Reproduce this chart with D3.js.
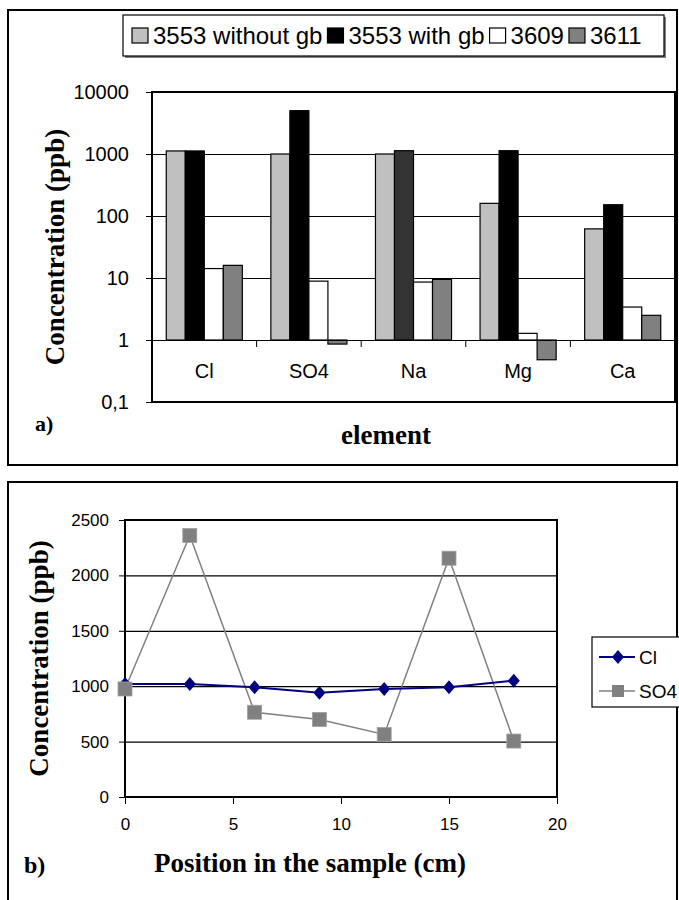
<!DOCTYPE html>
<html>
<head>
<meta charset="utf-8">
<script src="https://cdn.jsdelivr.net/npm/d3@7"></script>
<style>
  body { margin: 0; background: #fff; }
  svg { display: block; }
  .sans { font-family: "Liberation Sans", Arial, sans-serif; }
  .serif { font-family: "Liberation Serif", "Times New Roman", serif; font-weight: bold; }
</style>
</head>
<body>
<svg id="chart" width="679" height="900"></svg>
<script>
// ---- panel a data (log bar chart) ----
const categories = ["Cl", "SO4", "Na", "Mg", "Ca"];
const seriesNames = ["3553 without gb", "3553 with gb", "3609", "3611"];
const without3553 = [1120, 1000, 1000, 160, 62];
const with3553 = [1120, 5000, 1130, 1130, 152];
const s3609 = [14.2, 8.9, 8.6, 1.28, 3.4];
const s3611 = [16, 0.86, 9.5, 0.48, 2.5];
const logTicks = [0.1, 1, 10, 100, 1000, 10000];
const logTickLabels = ["0,1", "1", "10", "100", "1000", "10000"];

// ---- panel b data (line chart) ----
const positions = [0, 3, 6, 9, 12, 15, 18];
const clValues = [1020, 1020, 990, 940, 975, 990, 1050];
const so4Values = [975, 2360, 765, 700, 565, 2155, 505];
const linTicks = [0, 500, 1000, 1500, 2000, 2500];
const xTicks = [0, 5, 10, 15, 20];

const seriesValues = [without3553, with3553, s3609, s3611];
const seriesFill = ["#c0c0c0", "#000000", "#ffffff", "#808080"];

const svg = d3.select("#chart");

// outer panel borders
svg.append("rect").attr("x", 8).attr("y", 10).attr("width", 669).attr("height", 455)
    .attr("fill", "none").attr("stroke", "#000").attr("stroke-width", 2);
svg.append("rect").attr("x", 8).attr("y", 482).attr("width", 669).attr("height", 430)
    .attr("fill", "none").attr("stroke", "#000").attr("stroke-width", 2);

// ================= panel a =================
const a = { left: 152, right: 675, top: 92, bottom: 402 };

const x0 = d3.scaleBand().domain(categories).range([a.left, a.right]);
const x1 = d3.scaleBand().domain(seriesNames).range([0, x0.bandwidth()])
    .paddingInner(0).paddingOuter(0.75);
const yLog = d3.scaleLog().domain([0.1, 10000]).range([a.bottom, a.top]);

// gridlines
svg.append("g")
    .attr("transform", `translate(${a.left},0)`)
    .call(d3.axisLeft(yLog).tickValues([10, 100, 1000]).tickSize(-(a.right - a.left)).tickFormat(""))
    .call(g => g.select(".domain").remove())
    .call(g => g.selectAll("line").attr("stroke", "#000").attr("stroke-width", 1.2));

// y axis ticks + labels
svg.append("g")
    .attr("class", "sans")
    .attr("transform", `translate(${a.left},0)`)
    .call(d3.axisLeft(yLog).tickValues(logTicks).tickSize(6).tickPadding(17)
        .tickFormat((d, i) => logTickLabels[i]))
    .call(g => g.select(".domain").remove())
    .call(g => g.selectAll("line").attr("stroke", "#000"))
    .call(g => g.selectAll("text").attr("font-size", 20).attr("fill", "#000")
        .attr("font-family", "Liberation Sans, Arial, sans-serif"));

// bars
const bars = [];
categories.forEach((c, ci) => {
    seriesNames.forEach((s, si) => {
        bars.push({ cat: c, series: s, value: seriesValues[si][ci], fill: seriesFill[si] });
    });
});

svg.append("g")
    .selectAll("rect")
    .data(bars)
    .join("rect")
    .attr("x", d => x0(d.cat) + x1(d.series))
    .attr("width", x1.bandwidth())
    .attr("y", d => Math.min(yLog(d.value), yLog(1)))
    .attr("height", d => Math.abs(yLog(d.value) - yLog(1)))
    // the Na "with gb" bar is drawn in a dark grey in the original
    .attr("fill", d => (d.cat === "Na" && d.series === "3553 with gb") ? "#333333" : d.fill)
    .attr("stroke", "#000")
    .attr("stroke-width", 1.2);

// category axis crossing at 1
svg.append("g")
    .attr("transform", `translate(0,${yLog(1)})`)
    .call(d3.axisBottom(x0).tickSize(0).tickFormat(""))
    .call(g => g.select(".domain").attr("stroke", "#000").attr("stroke-width", 1.2));

// category boundary ticks
svg.append("g")
    .selectAll("line")
    .data(categories.slice(1))
    .join("line")
    .attr("x1", d => x0(d)).attr("x2", d => x0(d))
    .attr("y1", yLog(1)).attr("y2", yLog(1) + 7)
    .attr("stroke", "#000");

// category labels
svg.append("g")
    .selectAll("text")
    .data(categories)
    .join("text")
    .attr("class", "sans")
    .attr("x", d => x0(d) + x0.bandwidth() / 2)
    .attr("y", (yLog(1) + yLog(0.1)) / 2 + 7)
    .attr("text-anchor", "middle")
    .attr("font-size", 20)
    .text(d => d);

// plot border
svg.append("rect")
    .attr("x", a.left).attr("y", a.top)
    .attr("width", a.right - a.left).attr("height", a.bottom - a.top)
    .attr("fill", "none").attr("stroke", "#000").attr("stroke-width", 2);

// titles
svg.append("text").attr("class", "serif")
    .attr("transform", `translate(64,${(a.top + a.bottom) / 2}) rotate(-90)`)
    .attr("text-anchor", "middle").attr("font-size", 27)
    .text("Concentration (ppb)");
svg.append("text").attr("class", "serif")
    .attr("x", 386).attr("y", 444).attr("text-anchor", "middle").attr("font-size", 27)
    .text("element");
svg.append("text").attr("class", "serif")
    .attr("x", 35).attr("y", 431).attr("font-size", 22)
    .text("a)");

// legend a
const legA = svg.append("g");
legA.append("rect").attr("x", 125).attr("y", 17).attr("width", 541).attr("height", 41)
    .attr("fill", "#808080");
legA.append("rect").attr("x", 123).attr("y", 15).attr("width", 541).attr("height", 41)
    .attr("fill", "#fff").attr("stroke", "#000").attr("stroke-width", 1.2);
let lx = 132;
seriesNames.forEach((s, i) => {
    legA.append("rect").attr("x", lx).attr("y", 28).attr("width", 16).attr("height", 15)
        .attr("fill", seriesFill[i]).attr("stroke", "#000").attr("stroke-width", 1.2);
    const t = legA.append("text").attr("class", "sans")
        .attr("x", lx + 21).attr("y", 44).attr("font-size", 24).text(s);
    lx += 21 + t.node().getComputedTextLength() + 5;
});

// ================= panel b =================
const b = { left: 125, right: 557, top: 520, bottom: 797 };
const xLin = d3.scaleLinear().domain([0, 20]).range([b.left, b.right]);
const yLin = d3.scaleLinear().domain([0, 2500]).range([b.bottom, b.top]);

svg.append("g")
    .attr("transform", `translate(${b.left},0)`)
    .call(d3.axisLeft(yLin).tickValues([500, 1000, 1500, 2000]).tickSize(-(b.right - b.left)).tickFormat(""))
    .call(g => g.select(".domain").remove())
    .call(g => g.selectAll("line").attr("stroke", "#000").attr("stroke-width", 1.2));

svg.append("g")
    .attr("transform", `translate(${b.left},0)`)
    .call(d3.axisLeft(yLin).tickValues(linTicks).tickSize(6).tickPadding(10).tickFormat(d3.format("d")))
    .call(g => g.select(".domain").remove())
    .call(g => g.selectAll("line").attr("stroke", "#000"))
    .call(g => g.selectAll("text").attr("font-size", 17).attr("fill", "#000")
        .attr("font-family", "Liberation Sans, Arial, sans-serif"));

svg.append("g")
    .attr("transform", `translate(0,${b.bottom})`)
    .call(d3.axisBottom(xLin).tickValues(xTicks).tickSize(7).tickPadding(14).tickFormat(d3.format("d")))
    .call(g => g.select(".domain").remove())
    .call(g => g.selectAll("line").attr("stroke", "#000"))
    .call(g => g.selectAll("text").attr("font-size", 17).attr("fill", "#000")
        .attr("font-family", "Liberation Sans, Arial, sans-serif"));

svg.append("rect")
    .attr("x", b.left).attr("y", b.top)
    .attr("width", b.right - b.left).attr("height", b.bottom - b.top)
    .attr("fill", "none").attr("stroke", "#000").attr("stroke-width", 2);

const lineGen = d3.line().x(d => xLin(d[0])).y(d => yLin(d[1]));
const clPts = positions.map((p, i) => [p, clValues[i]]);
const so4Pts = positions.map((p, i) => [p, so4Values[i]]);
const diamond = "M0,-7L6,0L0,7L-6,0Z";

svg.append("path").datum(so4Pts).attr("d", lineGen)
    .attr("fill", "none").attr("stroke", "#808080").attr("stroke-width", 1.5);
svg.append("path").datum(clPts).attr("d", lineGen)
    .attr("fill", "none").attr("stroke", "#000080").attr("stroke-width", 2);

svg.append("g").selectAll("path").data(clPts).join("path")
    .attr("d", diamond)
    .attr("transform", d => `translate(${xLin(d[0])},${yLin(d[1])})`)
    .attr("fill", "#000080");
svg.append("g").selectAll("rect").data(so4Pts).join("rect")
    .attr("x", d => xLin(d[0]) - 7).attr("y", d => yLin(d[1]) - 7)
    .attr("width", 14).attr("height", 14)
    .attr("fill", "#808080").attr("stroke", "#a0a0a0").attr("stroke-width", 0.8);

svg.append("text").attr("class", "serif")
    .attr("transform", `translate(48,${(b.top + b.bottom) / 2}) rotate(-90)`)
    .attr("text-anchor", "middle").attr("font-size", 27)
    .text("Concentration (ppb)");
svg.append("text").attr("class", "serif")
    .attr("x", 310).attr("y", 872).attr("text-anchor", "middle").attr("font-size", 27)
    .text("Position in the sample (cm)");
svg.append("text").attr("class", "serif")
    .attr("x", 24).attr("y", 873).attr("font-size", 24)
    .text("b)");

// legend b
const legB = svg.append("g");
legB.append("rect").attr("x", 592).attr("y", 637).attr("width", 100).attr("height", 70)
    .attr("fill", "#fff").attr("stroke", "#000").attr("stroke-width", 1.2);
const legItems = [
    { name: "Cl", color: "#000080", y: 657, marker: "diamond" },
    { name: "SO4", color: "#808080", y: 691, marker: "square" }
];
legItems.forEach(it => {
    legB.append("line").attr("x1", 599).attr("x2", 635).attr("y1", it.y).attr("y2", it.y)
        .attr("stroke", it.color).attr("stroke-width", it.marker === "diamond" ? 2 : 1.5);
    if (it.marker === "diamond") {
        legB.append("path").attr("d", diamond).attr("transform", `translate(618,${it.y})`)
            .attr("fill", it.color);
    } else {
        legB.append("rect").attr("x", 612).attr("y", it.y - 6).attr("width", 12).attr("height", 12)
            .attr("fill", it.color);
    }
    legB.append("text").attr("class", "sans").attr("x", 639).attr("y", it.y + 7)
        .attr("font-size", 19).text(it.name);
});
</script>
</body>
</html>
